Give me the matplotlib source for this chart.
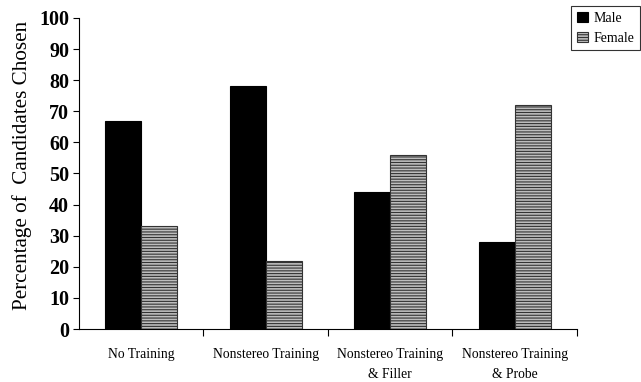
import matplotlib
matplotlib.use("Agg")
import matplotlib.pyplot as plt
import numpy as np

categories = ["No Training", "Nonstereo Training", "Nonstereo Training\n& Filler", "Nonstereo Training\n& Probe"]
male = [67, 78, 44, 28]
female = [33, 22, 56, 72]

plt.rcParams['font.family'] = ['Liberation Serif', 'DejaVu Serif']
plt.rcParams['hatch.linewidth'] = 0.8

fig = plt.figure(figsize=(6.41, 3.82), dpi=100)
ax = fig.add_axes([0.1232, 0.1387, 0.9 - 0.1232, 0.953 - 0.1387])

x = np.arange(len(categories))
w = 0.29
ax.bar(x - w/2, male, w, color='black', edgecolor='black', linewidth=0.8, label='Male')
plt.rcParams['hatch.color'] = '#555555'
ax.bar(x + w/2, female, w, color='#bdbdbd', edgecolor='#333333', linewidth=0.8,
       hatch='------', label='Female')

ax.set_xlim(-0.5, len(categories) - 0.5)
ax.set_ylim(0, 100)
ax.set_yticks(np.arange(0, 101, 10))
ax.tick_params(axis='y', labelsize=14.5, direction='out', length=4, width=0.8, pad=3)
for lbl in ax.get_yticklabels():
    lbl.set_fontweight('bold')
ax.set_xticks(x)
ax.set_xticklabels(categories, fontsize=9.8, linespacing=1.7, va='top')
ax.tick_params(axis='x', which='major', length=0, pad=14)
ax.set_xticks(np.arange(len(categories)) + 0.5, minor=True)
ax.tick_params(axis='x', which='minor', length=5, width=0.8, direction='out')
ax.spines['top'].set_visible(False)
ax.spines['right'].set_visible(False)
ax.set_ylabel("Percentage of  Candidates Chosen", fontsize=15.2)
ax.yaxis.set_label_coords(-0.095, 0.525)

leg = ax.legend(loc='upper left', bbox_to_anchor=(571/641, 1 - 6/382), bbox_transform=fig.transFigure,
                borderaxespad=0,
                fontsize=10, frameon=True, fancybox=False, edgecolor='black',
                handlelength=0.8, handleheight=0.8, handletextpad=0.4, borderpad=0.4, labelspacing=0.5)
leg.get_frame().set_linewidth(0.8)

fig.savefig("out.png", dpi=100)
